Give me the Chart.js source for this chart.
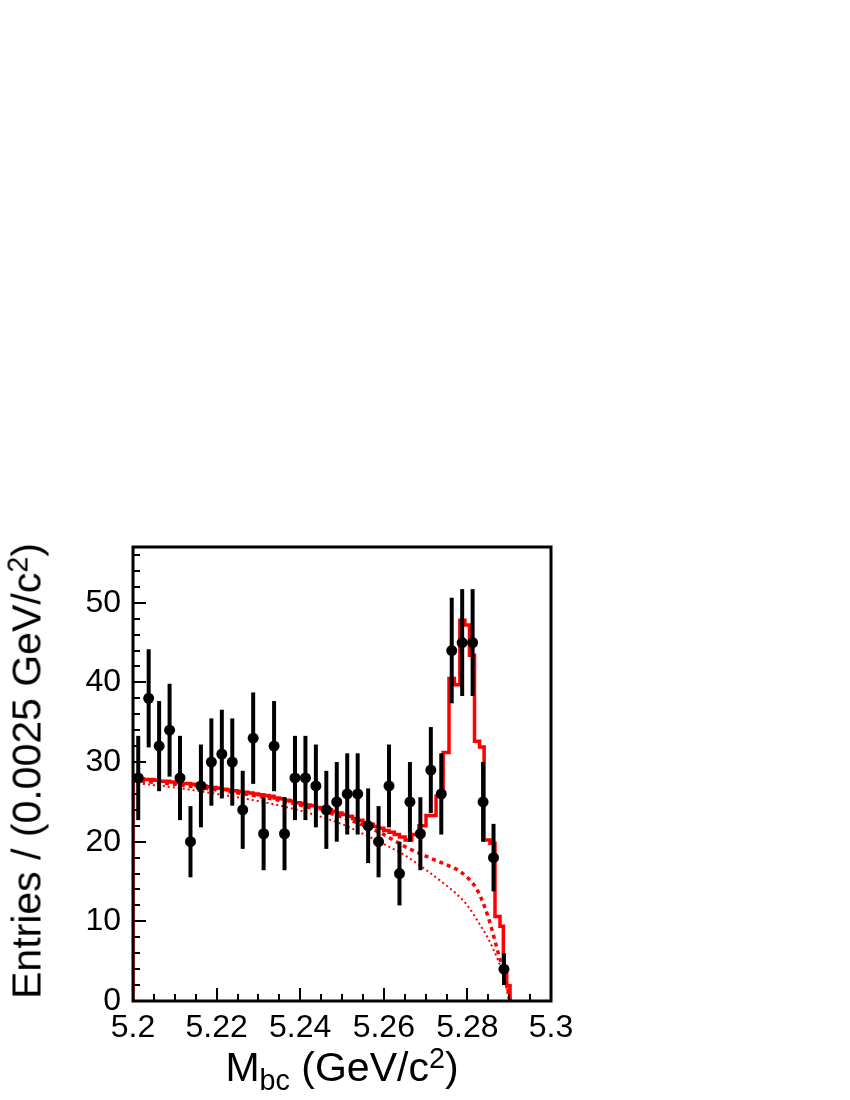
<!DOCTYPE html>
<html>
<head>
<meta charset="utf-8">
<script src="https://cdn.jsdelivr.net/npm/chart.js@4.4.1/dist/chart.umd.min.js"></script>
<style>
html,body{margin:0;padding:0;background:#fff;}
#wrap{position:relative;width:850px;height:1100px;overflow:hidden;background:#fff;}
#c{position:absolute;left:0;top:0;}
.ttl{position:absolute;font-family:'Liberation Sans',Arial,sans-serif;font-size:41px;line-height:41px;color:#000;white-space:nowrap;}
.ttl .sup{font-size:0.7em;position:relative;top:-0.45em;}
.ttl .sub{font-size:0.7em;position:relative;top:0.32em;}
#xt{left:342px;top:1047px;transform:translateX(-50%);}
#yt{left:29px;top:771px;transform:translate(-50%,-50%) rotate(-90deg);}
</style>
</head>
<body>
<div id="wrap">
<canvas id="c" width="850" height="1100"></canvas>
<div class="ttl" id="xt">M<span class="sub">bc</span> (GeV/c<span class="sup">2</span>)</div>
<div class="ttl" id="yt">Entries / (0.0025 GeV/c<span class="sup">2</span>)</div>
</div>
<script>
// ---- data ----
const binCenters = [5.20125, 5.20375, 5.20625, 5.20875, 5.21125, 5.21375, 5.21625, 5.21875, 5.22125, 5.22375,
  5.22625, 5.22875, 5.23125, 5.23375, 5.23625, 5.23875, 5.24125, 5.24375, 5.24625, 5.24875,
  5.25125, 5.25375, 5.25625, 5.25875, 5.26125, 5.26375, 5.26625, 5.26875, 5.27125, 5.27375,
  5.27625, 5.27875, 5.28125, 5.28375, 5.28625, 5.28875];
const entries = [28, 38, 32, 34, 28, 20, 27, 30, 31, 30,
  24, 33, 21, 32, 21, 28, 28, 27, 24, 25,
  26, 26, 22, 20, 27, 16, 25, 21, 29, 26,
  44, 45, 45, 25, 18, 4];
const entryErrors = [5.29, 6.16, 5.66, 5.83, 5.29, 4.47, 5.20, 5.48, 5.57, 5.48,
  4.90, 5.74, 4.58, 5.66, 4.58, 5.29, 5.29, 5.20, 4.90, 5.00,
  5.10, 5.10, 4.69, 4.47, 5.20, 4.00, 5.00, 4.58, 5.39, 5.10,
  6.63, 6.71, 6.71, 5.00, 4.24, 2.00];

// total fit (solid, step curve): left edge of each step and its level
const fitX = [5.2, 5.2, 5.20125, 5.2025, 5.20375, 5.205, 5.20625, 5.2075, 5.20875, 5.21, 5.21125,
  5.2125, 5.21375, 5.215, 5.21625, 5.2175, 5.21875, 5.22, 5.22125, 5.2225, 5.22375,
  5.225, 5.22625, 5.2275, 5.22875, 5.23, 5.23125, 5.2325, 5.23375, 5.235, 5.23625,
  5.2375, 5.23875, 5.24, 5.24125, 5.2425, 5.24375, 5.245, 5.24625, 5.2475, 5.24875,
  5.25, 5.25125, 5.2525, 5.25375, 5.255, 5.25625, 5.2575, 5.25875, 5.26, 5.26125,
  5.2625, 5.26375,
  5.2651, 5.2667, 5.2684, 5.2701, 5.2725, 5.2742, 5.2756, 5.2769, 5.2782, 5.2794,
  5.2805, 5.2817, 5.2829, 5.2840, 5.2854, 5.2866, 5.2878, 5.2886, 5.2894, 5.2902];
const fitY = [0, 28.0, 27.9, 27.8, 27.8, 27.7, 27.6, 27.6, 27.5, 27.4, 27.3,
  27.3, 27.2, 27.1, 27.0, 26.9, 26.8, 26.7, 26.6, 26.5, 26.4,
  26.3, 26.2, 26.1, 26.0, 25.9, 25.8, 25.7, 25.5, 25.4, 25.2,
  25.1, 24.9, 24.8, 24.6, 24.5, 24.3, 24.1, 24.0, 23.8, 23.6,
  23.4, 23.2, 22.9, 22.7, 22.4, 22.2, 21.9, 21.7, 21.4, 21.2,
  20.9, 20.6,
  20.2, 20.9, 22.0, 23.3, 25.7, 31.2, 40.5, 39.7, 47.8, 47.2,
  43.4, 32.6, 31.9, 20.2, 19.8, 10.6, 9.4, 3.9, 1.9, 0];

// background + peaking background (dashed)
const dashX = [5.2, 5.21, 5.22, 5.23, 5.24, 5.25, 5.255, 5.26, 5.265, 5.27, 5.275, 5.2775, 5.28, 5.2825, 5.285, 5.2875, 5.289, 5.2903];
const dashY = [27.7, 27.2, 26.5, 25.7, 24.6, 23.1, 22.1, 20.9, 19.4, 18.2, 17.1, 16.5, 15.5, 13.8, 10.5, 5.8, 3.0, 0];

// combinatorial background (dotted)
const dotX = [5.2, 5.21, 5.22, 5.23, 5.24, 5.25, 5.255, 5.26, 5.265, 5.27, 5.275, 5.2775, 5.28, 5.2825, 5.285, 5.2875, 5.289, 5.2898, 5.29];
const dotY = [27.4, 26.8, 26.0, 25.1, 23.9, 22.2, 21.0, 19.7, 18.3, 16.5, 14.5, 13.4, 12.0, 10.0, 7.8, 4.9, 2.6, 0.4, 0];

// axes
const xTickValues = [5.2, 5.22, 5.24, 5.26, 5.28, 5.3];
const xTickLabels = ['5.2', '5.22', '5.24', '5.26', '5.28', '5.3'];
const yTickValues = [0, 10, 20, 30, 40, 50];
const yTickLabels = ['0', '10', '20', '30', '40', '50'];
const xMin = 5.2, xMax = 5.3, yMin = 0, yMax = 57;

// ---- plugins ----
const errorBars = {
  id: 'errorBars',
  afterDatasetsDraw(chart) {
    const ctx = chart.ctx, ys = chart.scales.y, a = chart.chartArea;
    const meta = chart.getDatasetMeta(0);
    ctx.save();
    ctx.beginPath();
    ctx.rect(a.left, a.top, a.right - a.left, a.bottom - a.top);
    ctx.clip();
    ctx.strokeStyle = '#000';
    ctx.lineWidth = 4;
    meta.data.forEach((pt, i) => {
      const y1 = ys.getPixelForValue(entries[i] - entryErrors[i]);
      const y2 = ys.getPixelForValue(entries[i] + entryErrors[i]);
      ctx.beginPath();
      ctx.moveTo(pt.x, y1);
      ctx.lineTo(pt.x, y2);
      ctx.stroke();
    });
    ctx.restore();
  }
};

const rootFrame = {
  id: 'rootFrame',
  afterDraw(chart) {
    const ctx = chart.ctx, a = chart.chartArea, xs = chart.scales.x, ys = chart.scales.y;
    ctx.save();
    ctx.strokeStyle = '#000';
    ctx.lineWidth = 2;
    // y ticks (inward from left axis)
    for (let i = 0; i * 2 <= yMax; i++) {
      const v = i * 2;
      const py = Math.round(ys.getPixelForValue(v)) + 0.0;
      const len = (v % 10 === 0) ? 13 : 7;
      ctx.beginPath();
      ctx.moveTo(a.left, py);
      ctx.lineTo(a.left + len, py);
      ctx.stroke();
    }
    // x ticks (inward from bottom axis)
    for (let i = 0; i <= 20; i++) {
      const v = xMin + i * 0.005;
      const px = Math.round(xs.getPixelForValue(v));
      const len = (i % 4 === 0) ? 13 : 7;
      ctx.beginPath();
      ctx.moveTo(px, a.bottom);
      ctx.lineTo(px, a.bottom - len);
      ctx.stroke();
    }
    ctx.lineWidth = 3;
    ctx.strokeRect(a.left, a.top, a.right - a.left, a.bottom - a.top);
    ctx.restore();
  }
};

const toXY = (xs, ys) => xs.map((x, i) => ({x: x, y: ys[i]}));

new Chart(document.getElementById('c'), {
  type: 'line',
  data: {
    datasets: [
      {
        label: 'Data',
        data: toXY(binCenters, entries),
        showLine: false,
        pointRadius: 5.5,
        pointHoverRadius: 5.5,
        pointBackgroundColor: '#000',
        pointBorderColor: '#000',
        pointBorderWidth: 0
      },
      {
        label: 'Total fit',
        data: toXY(fitX, fitY),
        borderColor: '#ff0000',
        borderWidth: 3.5,
        stepped: true,
        pointRadius: 0,
        fill: false
      },
      {
        label: 'Background + peaking',
        data: toXY(dashX, dashY),
        borderColor: '#ff0000',
        borderWidth: 3.5,
        borderDash: [4, 4],
        tension: 0.3,
        cubicInterpolationMode: 'monotone',
        pointRadius: 0,
        fill: false
      },
      {
        label: 'Combinatorial background',
        data: toXY(dotX, dotY),
        borderColor: '#ff0000',
        borderWidth: 2,
        borderDash: [2, 3],
        cubicInterpolationMode: 'monotone',
        pointRadius: 0,
        fill: false
      }
    ]
  },
  options: {
    responsive: false,
    animation: false,
    devicePixelRatio: 1,
    layout: {padding: {top: 547, right: 299, left: 0, bottom: 0}},
    plugins: {legend: {display: false}, tooltip: {enabled: false}, title: {display: false}},
    events: [],
    scales: {
      x: {
        type: 'linear',
        min: xMin, max: xMax,
        grid: {display: false, drawTicks: false},
        border: {display: false},
        afterBuildTicks: s => { s.ticks = xTickValues.map(v => ({value: v})); },
        afterFit: s => { s.height = 99; },
        ticks: {
          autoSkip: false, maxRotation: 0, minRotation: 0, padding: 8,
          color: '#000',
          font: {family: "'Liberation Sans', Arial, sans-serif", size: 32},
          callback: (v, i) => xTickLabels[i]
        }
      },
      y: {
        type: 'linear',
        min: yMin, max: yMax,
        grid: {display: false, drawTicks: false},
        border: {display: false},
        afterBuildTicks: s => { s.ticks = yTickValues.map(v => ({value: v})); },
        afterFit: s => { s.width = 133; },
        ticks: {
          autoSkip: false, padding: 12,
          color: '#000',
          font: {family: "'Liberation Sans', Arial, sans-serif", size: 32},
          callback: (v, i) => yTickLabels[i]
        }
      }
    }
  },
  plugins: [errorBars, rootFrame]
});
</script>
</body>
</html>
